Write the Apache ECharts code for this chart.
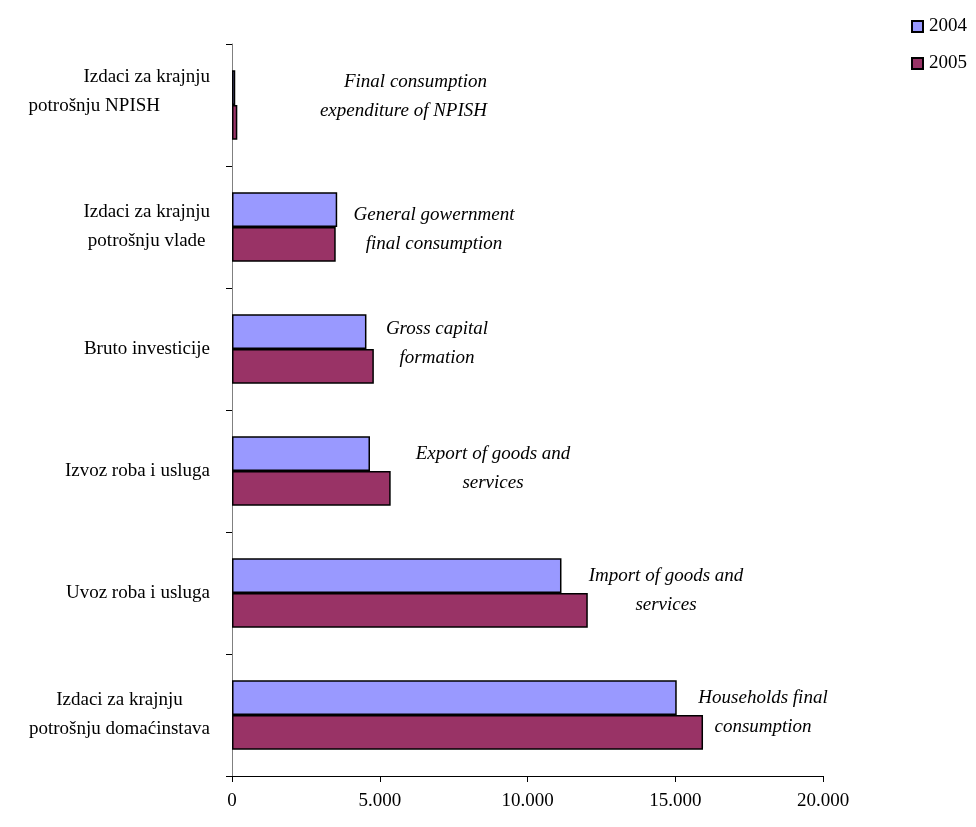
<!DOCTYPE html>
<html>
<head>
<meta charset="utf-8">
<title>Izdaci BDP 2004-2005</title>
<script src="https://cdn.jsdelivr.net/npm/echarts@6/dist/echarts.min.js"></script>
<style>
  html, body { margin: 0; padding: 0; background: #fff; }
  #chart { width: 976px; height: 827px; }
</style>
</head>
<body>
<div id="chart"></div>
<script>
// Categories listed bottom to top, as the value axis grows upward on screen
const categories = [
  'Izdaci za krajnju\npotrošnju domaćinstava',
  'Uvoz roba i usluga',
  'Izvoz roba i usluga',
  'Bruto investicije',
  'Izdaci za krajnju\npotrošnju vlade',
  'Izdaci za krajnju\npotrošnju NPISH'
];
const englishNames = [
  'Households final\nconsumption',
  'Import of goods and\nservices',
  'Export of goods and\nservices',
  'Gross capital\nformation',
  'General gowernment\nfinal consumption',
  'Final consumption\nexpenditure of NPISH'
];
const values2004 = [15050, 11150, 4670, 4550, 3560, 110];
const values2005 = [15940, 12040, 5370, 4800, 3510, 180];
const xTicks = [0, 5000, 10000, 15000, 20000];

const FONT = '"Liberation Serif", "DejaVu Serif", serif';

// Placement of the italic English captions (pixel anchor + alignment)
const captionPlacement = [
  { x: 763, y: 712, align: 'center' },
  { x: 666, y: 590, align: 'center' },
  { x: 493, y: 468, align: 'center' },
  { x: 437, y: 343, align: 'center' },
  { x: 434, y: 229, align: 'center' },
  { x: 487, y: 96, align: 'right' }
];

function fmtThousands(v) {
  return String(v).replace(/\B(?=(\d{3})+(?!\d))/g, '.');
}

const chart = echarts.init(document.getElementById('chart'), null, { renderer: 'canvas' });

const option = {
  backgroundColor: '#ffffff',
  animation: false,
  textStyle: { fontFamily: FONT },
  grid: { left: 232, right: 153, top: 44, bottom: 51, containLabel: false },
  legend: {
    orient: 'vertical',
    right: 4,
    top: 12,
    itemWidth: 11,
    itemHeight: 11,
    itemGap: 18,
    icon: 'rect',
    textStyle: { fontFamily: FONT, fontSize: 19, color: '#000', padding: [0, 0, 0, 1] },
    data: ['2004', '2005']
  },
  xAxis: {
    type: 'value',
    min: xTicks[0],
    max: xTicks[xTicks.length - 1],
    interval: xTicks[1] - xTicks[0],
    splitLine: { show: false },
    axisLine: { show: true, lineStyle: { color: '#000', width: 1 } },
    axisTick: { show: true, inside: false, length: 6, lineStyle: { color: '#000' } },
    axisLabel: {
      margin: 16,
      fontFamily: FONT,
      fontSize: 19,
      color: '#000',
      formatter: fmtThousands
    }
  },
  yAxis: {
    type: 'category',
    data: categories,
    axisLine: { show: true, lineStyle: { color: '#808080', width: 1 } },
    axisTick: { show: true, inside: false, length: 6, alignWithLabel: false, lineStyle: { color: '#000' } },
    axisLabel: {
      margin: 22,
      align: 'right',
      fontFamily: FONT,
      fontSize: 19,
      color: '#000',
      formatter: function (value, index) {
        const lines = value.split('\n');
        if (index === 5) {
          return '{r|' + lines[0] + '}\n{s|' + lines[1] + '}\n{gap| }';
        }
        return lines.map(l => '{c|' + l + '}').join('\n');
      },
      rich: {
        c: { align: 'center', fontFamily: FONT, fontSize: 19, lineHeight: 29, color: '#000' },
        r: { align: 'right', fontFamily: FONT, fontSize: 19, lineHeight: 29, color: '#000' },
        s: { align: 'right', fontFamily: FONT, fontSize: 19, lineHeight: 29, color: '#000', padding: [0, 50, 0, 0] },
        gap: { fontSize: 4, lineHeight: 26 }
      }
    }
  },
  series: [
    {
      name: '2004',
      type: 'bar',
      data: values2004,
      barGap: '0%',
      barCategoryGap: '43%',
      itemStyle: { color: '#9999FF', borderColor: '#000', borderWidth: 1.5 }
    },
    {
      name: '2005',
      type: 'bar',
      data: values2005,
      barGap: '0%',
      barCategoryGap: '43%',
      itemStyle: { color: '#993366', borderColor: '#000', borderWidth: 1.5 }
    }
  ],
  graphic: englishNames.map((t, i) => ({
    type: 'text',
    x: captionPlacement[i].x,
    y: captionPlacement[i].y,
    style: {
      text: t,
      font: 'italic 19px ' + FONT,
      fill: '#000',
      align: captionPlacement[i].align,
      verticalAlign: 'middle',
      lineHeight: 29
    }
  }))
};

chart.setOption(option);
</script>
</body>
</html>
